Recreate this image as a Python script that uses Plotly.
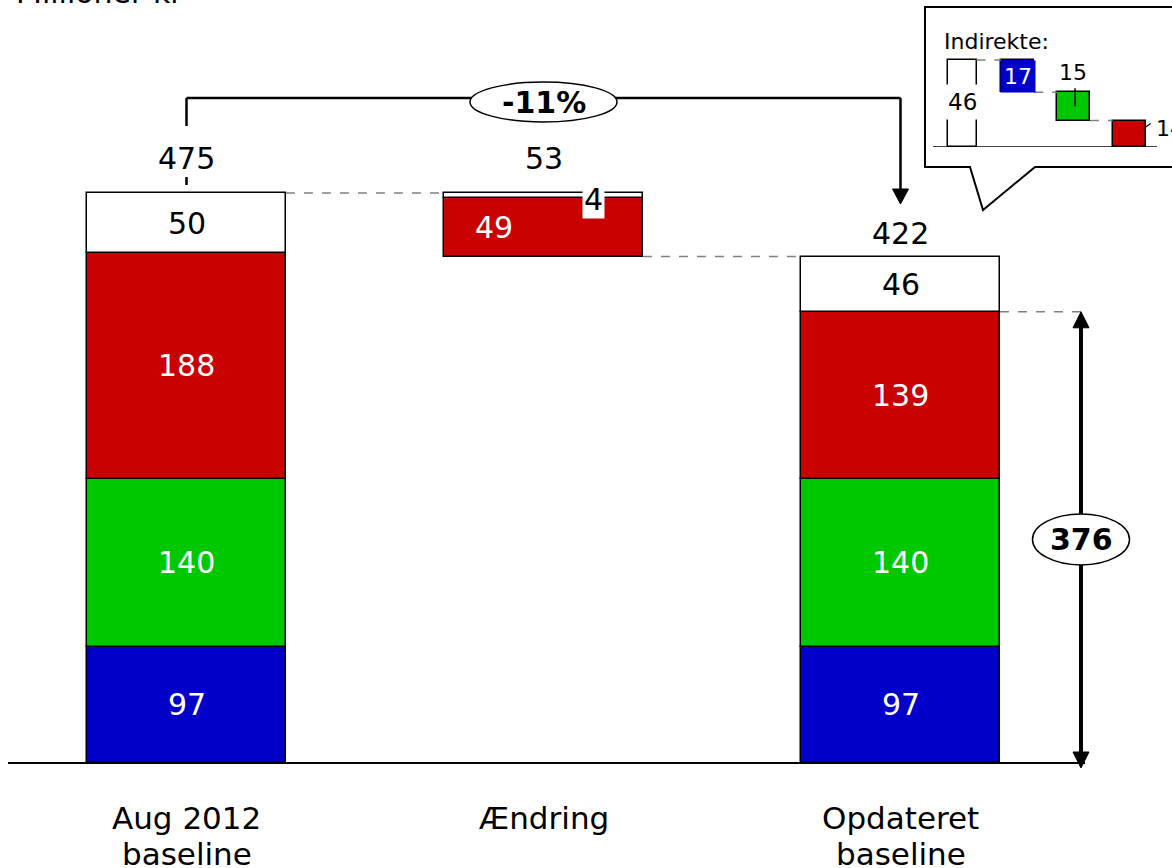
import plotly.graph_objects as go

# ---------------- data ----------------
categories = ["Aug 2012<br>baseline", "Ændring", "Opdateret<br>baseline"]
blue_vals = [97, 0, 97]
green_vals = [140, 0, 140]
red_vals = [188, 49, 139]
white_vals = [50, 4, 46]
totals = [475, 53, 422]
change_label = "-11%"
core_total = 376

unit_label = "Millioner kr"
inset_title = "Indirekte:"
inset_vals = [46, 17, 15, 14]

BLUE = "#0000C8"
GREEN = "#00C800"
RED = "#C80000"
GRAY = "#808080"
FONT = "DejaVu Sans"

# ---------------- geometry helpers ----------------
W, H = 1172, 868
L, R, T, B = 8, 0, 0, 95
PW, PH = W - L - R, H - T - B
XPX = 357.0     # px per category
YPX = 1.2       # px per unit
ZERO_PY = 763

x_range = [-0.5, -0.5 + PW / XPX]
y_range = [-(T + PH - ZERO_PY) / YPX, (ZERO_PY - T) / YPX]


def xd(px):
    return -0.5 + (px - L) / XPX


def yd(py):
    return (ZERO_PY - py) / YPX


def xp(px):
    return (px - L) / PW


def yp(py):
    return (T + PH - py) / PH


BW = 0.557
xs = [0, 1, 2]

# bases
start = [0, totals[2], 0]
b_blue = start[:]
b_green = [b + v for b, v in zip(b_blue, blue_vals)]
b_red = [b + v for b, v in zip(b_green, green_vals)]
b_white = [b + v for b, v in zip(b_red, red_vals)]

fig = go.Figure()

series = [
    ("blue", blue_vals, b_blue, BLUE),
    ("green", green_vals, b_green, GREEN),
    ("red", red_vals, b_red, RED),
    ("white", white_vals, b_white, "white"),
]
for name, vals, base, col in series:
    fig.add_trace(go.Bar(
        x=xs, y=[v if v else None for v in vals], base=base, width=BW,
        marker=dict(color=col, line=dict(color="black", width=1.5)),
        name=name, showlegend=False, hoverinfo="skip",
    ))

ann = []
shapes = []
VFS = 30

# segment labels
for name, vals, base, col in series:
    for i, (v, b) in enumerate(zip(vals, base)):
        if not v:
            continue
        fcol = "black" if col == "white" else "white"
        a = dict(x=xs[i], y=b + v / 2, text=str(v), showarrow=False,
                 font=dict(family=FONT, size=VFS, color=fcol))
        if i == 1 and name == "red":
            a.update(xshift=-50)
        if i == 1 and name == "white":
            a.update(y=b + v, xshift=50, yshift=-6, bgcolor="white",
                     borderpad=1)
        ann.append(a)

# total labels
tshift = [35, 35, 23]
tops = [b + v for b, v in zip(b_white, white_vals)]
for i in range(3):
    ann.append(dict(x=xs[i], y=tops[i], text=str(totals[i]), showarrow=False,
                    yshift=tshift[i],
                    font=dict(family=FONT, size=VFS, color="black")))

# category labels (two lines each)
for i, c in enumerate(categories):
    parts = c.split("<br>")
    for j, p in enumerate(parts):
        ann.append(dict(x=xs[i], xref="x", yref="paper", y=yp(818 + 36 * j), text=p,
                        showarrow=False, yanchor="middle",
                        font=dict(family=FONT, size=31, color="black")))

# unit label (cut at top)
ann.append(dict(xref="paper", yref="paper", x=xp(14), y=yp(0), xanchor="left",
                yanchor="bottom", yshift=-12, text=unit_label, showarrow=False,
                font=dict(family=FONT, size=30, color="black")))

# dashed connectors
dash = dict(color=GRAY, width=1.5, dash="dash")
shapes.append(dict(type="line", xref="x", yref="y", x0=0 + BW / 2, x1=1 - BW / 2,
                   y0=tops[0], y1=tops[0], line=dash))
shapes.append(dict(type="line", xref="x", yref="y", x0=1 + BW / 2, x1=2 - BW / 2,
                   y0=totals[2], y1=totals[2], line=dash))
shapes.append(dict(type="line", xref="x", yref="y", x0=2 + BW / 2, x1=xd(1088),
                   y0=core_total, y1=core_total, line=dash))

# baseline
shapes.append(dict(type="line", xref="x", yref="y", x0=-0.5, x1=xd(1085),
                   y0=0, y1=0, line=dict(color="black", width=2)))

# -11% bracket
br_y = yd(98)
blk = dict(color="black", width=2.5)
shapes.append(dict(type="line", xref="x", yref="y", x0=0, x1=0,
                   y0=yd(126), y1=br_y, line=blk))
shapes.append(dict(type="line", xref="x", yref="y", x0=0, x1=0,
                   y0=yd(185), y1=yd(177), line=blk))
shapes.append(dict(type="line", xref="x", yref="y", x0=0, x1=2,
                   y0=br_y, y1=br_y, line=blk))
shapes.append(dict(type="line", xref="x", yref="y", x0=2, x1=2,
                   y0=br_y, y1=yd(192), line=blk))
hw = 8 / XPX
shapes.append(dict(type="path", xref="x", yref="y",
                   path=f"M {2-hw},{yd(189)} L {2+hw},{yd(189)} L 2,{yd(204)} Z",
                   fillcolor="black", line=dict(color="black", width=1)))
# ellipse -11%
ex, ey = 1, yd(102)
shapes.append(dict(type="circle", xref="x", yref="y",
                   x0=ex - 73.5 / XPX, x1=ex + 73.5 / XPX,
                   y0=ey - 20 / YPX, y1=ey + 20 / YPX,
                   fillcolor="white", line=dict(color="black", width=1.5)))
ann.append(dict(x=ex, y=ey, text="<b>" + change_label + "</b>", showarrow=False,
                font=dict(family=FONT, size=30, color="black")))

# 376 double arrow
ax_ = xd(1081)
shapes.append(dict(type="line", xref="x", yref="y", x0=ax_, x1=ax_,
                   y0=core_total - 14 / YPX, y1=-5 / YPX + 14 / YPX,
                   line=dict(color="black", width=4)))
shapes.append(dict(type="path", xref="x", yref="y",
                   path=(f"M {ax_-hw},{core_total-16/YPX} L {ax_+hw},{core_total-16/YPX} "
                         f"L {ax_},{core_total} Z"),
                   fillcolor="black", line=dict(color="black", width=1)))
shapes.append(dict(type="path", xref="x", yref="y",
                   path=(f"M {ax_-hw},{-5/YPX+16/YPX} L {ax_+hw},{-5/YPX+16/YPX} "
                         f"L {ax_},{-5/YPX} Z"),
                   fillcolor="black", line=dict(color="black", width=1)))
cy = core_total / 2 - 2 / YPX
shapes.append(dict(type="circle", xref="x", yref="y",
                   x0=ax_ - 48.5 / XPX, x1=ax_ + 48.5 / XPX,
                   y0=cy - 25.5 / YPX, y1=cy + 25.5 / YPX,
                   fillcolor="white", line=dict(color="black", width=1.5)))
ann.append(dict(x=ax_, y=cy, text="<b>" + str(core_total) + "</b>", showarrow=False,
                font=dict(family=FONT, size=30, color="black")))

# ---------------- inset (callout) ----------------
pts = [(925, 7), (1190, 7), (1190, 167), (1035, 167), (983, 210), (970, 167), (925, 167)]
path = "M " + " L ".join(f"{xp(a)},{yp(b)}" for a, b in pts) + " Z"
shapes.append(dict(type="path", xref="paper", yref="paper", path=path,
                   fillcolor="white", line=dict(color="black", width=2), layer="below"))

IX0, IXS = 962.0, 55.7
IYS = 87.0 / inset_vals[0]
IBASE_PY, ITOP_PY = 147, 7
x2_range = [(925 - IX0) / IXS, (W - IX0) / IXS]
y2_range = [0, (IBASE_PY - ITOP_PY) / IYS]
IBW = 33 / IXS
IBW0 = 29 / IXS

running = inset_vals[0]
ibases = [0]
for v in inset_vals[1:]:
    running -= v
    ibases.append(running)
icolors = ["white", BLUE, GREEN, RED]
for i, (v, b, c) in enumerate(zip(inset_vals, ibases, icolors)):
    fig.add_trace(go.Bar(x=[i], y=[v], base=[b], width=IBW0 if i == 0 else IBW,
                         xaxis="x2", yaxis="y2",
                         marker=dict(color=c, line=dict(color="black", width=1.5)),
                         showlegend=False, hoverinfo="skip"))

for i in range(3):
    lvl = ibases[i] if i > 0 else inset_vals[0]
    w0 = IBW0 if i == 0 else IBW
    shapes.append(dict(type="line", xref="x2", yref="y2", x0=i + w0 / 2,
                       x1=i + 1 - IBW / 2, y0=lvl, y1=lvl,
                       line=dict(color=GRAY, width=1.5, dash="dash")))
shapes.append(dict(type="line", xref="x2", yref="y2", x0=(933 - IX0) / IXS,
                   x1=(1157 - IX0) / IXS, y0=0, y1=0,
                   line=dict(color="black", width=1.5)))

ifont = dict(family=FONT, size=22, color="black")
ann.append(dict(xref="x2", yref="y2", x=0, y=inset_vals[0] / 2 + 1, text=str(inset_vals[0]),
                showarrow=False, bgcolor="white", borderpad=4,
                font=dict(family=FONT, size=23, color="black")))
ann.append(dict(xref="x2", yref="y2", x=1, y=ibases[1] + inset_vals[1] / 2,
                text=str(inset_vals[1]), showarrow=False, bgcolor=BLUE, borderpad=3,
                font=dict(family=FONT, size=22, color="white")))
ann.append(dict(xref="x2", yref="y2", x=2, y=ibases[2] + inset_vals[2], yshift=20,
                text=str(inset_vals[2]), showarrow=False, font=ifont))
shapes.append(dict(type="line", xref="x2", yref="y2", x0=2.03, x1=2.03,
                   y0=ibases[2] + inset_vals[2] / 2,
                   y1=ibases[2] + inset_vals[2] + 4 / IYS,
                   line=dict(color="black", width=1.5)))
ann.append(dict(xref="x2", yref="y2", x=3 + IBW / 2, y=inset_vals[3], xanchor="left",
                xshift=8, yshift=-8, text=str(inset_vals[3]), showarrow=False, font=ifont))
shapes.append(dict(type="line", xref="x2", yref="y2", x0=3 + IBW / 2 - 2 / IXS,
                   x1=3 + IBW / 2 + 5 / IXS, y0=inset_vals[3] - 8 / IYS,
                   y1=inset_vals[3] - 3 / IYS, line=dict(color="black", width=1.2)))
ann.append(dict(xref="paper", yref="paper", x=xp(942), y=yp(42), xanchor="left",
                yanchor="middle", text=inset_title, showarrow=False, font=ifont))

fig.update_layout(
    width=W, height=H,
    margin=dict(l=L, r=R, t=T, b=B, pad=0),
    paper_bgcolor="white", plot_bgcolor="rgba(0,0,0,0)",
    barmode="overlay", bargap=0,
    showlegend=False,
    xaxis=dict(range=x_range, visible=False, fixedrange=True),
    yaxis=dict(range=y_range, visible=False, fixedrange=True),
    xaxis2=dict(range=x2_range, domain=[xp(925), 1.0], anchor="y2", visible=False,
                fixedrange=True),
    yaxis2=dict(range=y2_range, domain=[yp(IBASE_PY), yp(ITOP_PY)], anchor="x2",
                visible=False, fixedrange=True),
    shapes=shapes, annotations=ann,
    font=dict(family=FONT),
)

fig.write_html("out.html", config={"displayModeBar": False},
               post_script="document.body.style.margin='0';document.body.style.overflow='hidden';")
